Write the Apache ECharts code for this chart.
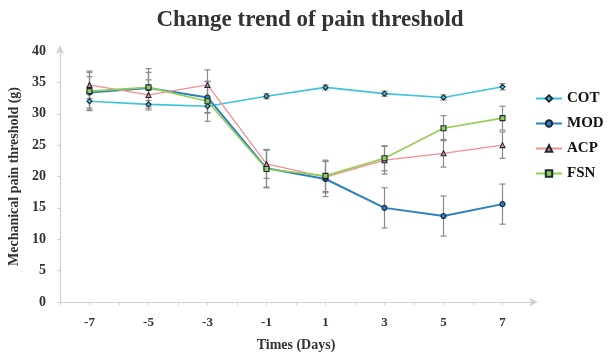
<!DOCTYPE html>
<html>
<head>
<meta charset="utf-8">
<script src="https://cdn.jsdelivr.net/npm/echarts@6/dist/echarts.min.js"></script>
<style>html,body{margin:0;padding:0;background:#fff;}#c{width:608px;height:352px;}</style>
</head>
<body>
<div id="c"></div>
<script>
var days = [-7, -5, -3, -1, 1, 3, 5, 7];
var cot = [32.0, 31.5, 31.2, 32.8, 34.2, 33.2, 32.6, 34.3];
var cotErr = [1.5, 0.6, 1.0, 0.4, 0.4, 0.4, 0.4, 0.5];
var mod = [33.4, 34.1, 32.6, 21.3, 19.6, 15.0, 13.7, 15.6];
var modErr = [2.5, 2.5, 2.5, 3.0, 2.8, 3.2, 3.2, 3.2];
var acp = [34.6, 33.0, 34.6, 22.0, 19.9, 22.6, 23.7, 25.0];
var acpErr = [2.2, 2.4, 2.4, 2.3, 2.5, 2.2, 2.2, 2.1];
var fsn = [33.6, 34.2, 32.0, 21.2, 20.1, 22.9, 27.7, 29.3];
var fsnErr = [3.0, 3.0, 3.2, 3.0, 2.5, 2.0, 2.0, 1.9];
var yTicks = [0, 5, 10, 15, 20, 25, 30, 35, 40];

var serif = '"Liberation Serif", "DejaVu Serif", serif';
var chart = echarts.init(document.getElementById('c'));

function pairs(vals) { return days.map(function (d, i) { return [d, vals[i]]; }); }
function errData(vals, errs) { return days.map(function (d, i) { return [d, vals[i] - errs[i], vals[i] + errs[i]]; }); }

function errSeries(vals, errs) {
  return {
    type: 'custom',
    z: 1,
    silent: true,
    data: errData(vals, errs),
    renderItem: function (params, api) {
      var lo = api.coord([api.value(0), api.value(1)]);
      var hi = api.coord([api.value(0), api.value(2)]);
      var w = 3;
      var st = { stroke: '#8a8a8a', lineWidth: 1.2 };
      return {
        type: 'group',
        children: [
          { type: 'line', shape: { x1: lo[0], y1: lo[1], x2: hi[0], y2: hi[1] }, style: st },
          { type: 'line', shape: { x1: lo[0] - w, y1: lo[1], x2: lo[0] + w, y2: lo[1] }, style: st },
          { type: 'line', shape: { x1: hi[0] - w, y1: hi[1], x2: hi[0] + w, y2: hi[1] }, style: st }
        ]
      };
    }
  };
}

function lineSeries(name, vals, color, symbol, size, lw) {
  return {
    name: name,
    type: 'line',
    z: 3,
    data: pairs(vals),
    symbol: symbol,
    symbolSize: size,
    lineStyle: { color: color, width: lw },
    itemStyle: { color: color, borderColor: '#1a2a3a', borderWidth: 1.1 }
  };
}

chart.setOption({
  animation: false,
  title: {
    text: 'Change trend of pain threshold',
    left: 305, top: 4, textAlign: 'center',
    textStyle: { fontFamily: serif, fontWeight: 'bold', fontSize: 23, color: '#333' }
  },
  legend: {
    orient: 'vertical',
    left: 530, top: 86,
    itemGap: 10,
    itemWidth: 26, itemHeight: 8,
    data: ['COT', 'MOD', 'ACP', 'FSN'],
    textStyle: { fontFamily: serif, fontWeight: 'bold', fontSize: 15, color: '#111' }
  },
  grid: { left: 60, right: 76, top: 51, bottom: 50, containLabel: false, outerBoundsMode: 'none' },
  xAxis: {
    type: 'value',
    min: -8, max: 8, interval: 1,
    name: 'Times (Days)',
    nameLocation: 'middle', nameGap: 36,
    nameTextStyle: { fontFamily: serif, fontWeight: 'bold', fontSize: 14, color: '#333' },
    axisLine: { show: true, onZero: false, lineStyle: { color: '#d0d0d0', width: 1.2 }, symbol: ['none', 'arrow'], symbolSize: [6, 9], symbolOffset: [0, 6] },
    axisTick: { show: true, length: 3, lineStyle: { color: '#d0d0d0' } },
    splitLine: { show: false },
    axisLabel: {
      fontFamily: serif, fontWeight: 'bold', fontSize: 13, color: '#333', margin: 14,
      formatter: function (v) { return (days.indexOf(v) >= 0) ? String(v) : ''; }
    }
  },
  yAxis: {
    type: 'value',
    min: yTicks[0], max: yTicks[yTicks.length - 1], interval: 5,
    name: 'Mechanical pain threshold (g)',
    nameLocation: 'middle', nameGap: 38, nameRotate: 90,
    nameTextStyle: { fontFamily: serif, fontWeight: 'bold', fontSize: 14, color: '#333' },
    axisLine: { show: true, onZero: false, lineStyle: { color: '#d0d0d0', width: 1.2 }, symbol: ['none', 'arrow'], symbolSize: [6, 9], symbolOffset: [0, 6] },
    axisTick: { show: true, length: 3, lineStyle: { color: '#d0d0d0' } },
    splitLine: { show: false },
    axisLabel: { fontFamily: serif, fontWeight: 'bold', fontSize: 14, color: '#333', margin: 14 }
  },
  series: [
    errSeries(cot, cotErr),
    errSeries(mod, modErr),
    errSeries(acp, acpErr),
    errSeries(fsn, fsnErr),
    lineSeries('COT', cot, '#3ec3dc', 'diamond', 5, 1.6),
    lineSeries('MOD', mod, '#2b80c2', 'circle', 5, 2),
    lineSeries('ACP', acp, '#f58e92', 'triangle', 5, 1.3),
    lineSeries('FSN', fsn, '#93cf52', 'rect', 5, 1.6)
  ]
});
</script>
</body>
</html>
